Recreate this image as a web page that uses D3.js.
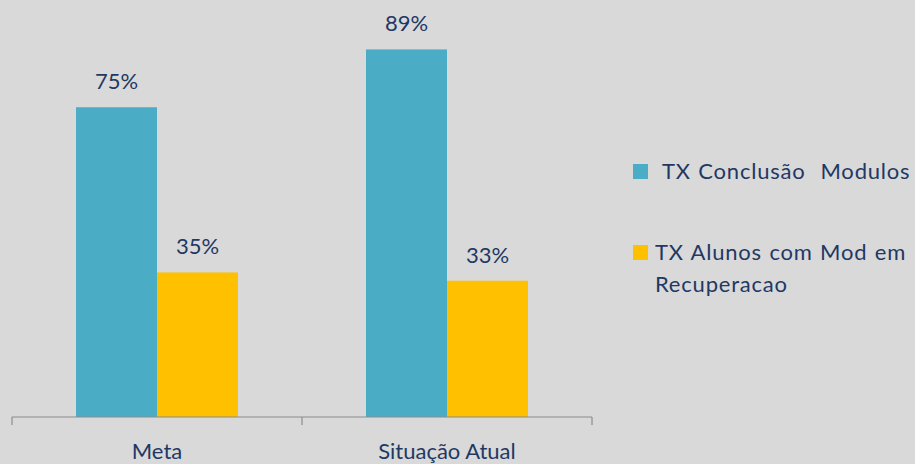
<!DOCTYPE html>
<html>
<head>
<meta charset="utf-8">
<script src="https://cdn.jsdelivr.net/npm/d3@7"></script>
<style>
  body { margin: 0; background: #d9d9d9; }
  svg { display: block; font-family: Lato, "Open Sans", sans-serif; }
  .lbl { fill: #1f3864; font-size: 22px; }
  .leg { fill: #1f3864; font-size: 22px; letter-spacing: 0.8px; word-spacing: 1px; }
</style>
</head>
<body>
<div id="chart"></div>
<script>
let categories = ["Meta", "Situação Atual"];
let series = ["TX Conclusão  Modulos", "TX Alunos com Mod em Recuperacao"];
let conclusao = [0.75, 0.89];
let recuperacao = [0.35, 0.33];
let colors = ["#4bacc6", "#ffc000"];

let width = 915, height = 464;

let svg = d3.select("#chart").append("svg")
    .attr("width", width)
    .attr("height", height);

svg.append("rect").attr("width", width).attr("height", height).attr("fill", "#d9d9d9");

let x0 = d3.scaleBand(categories, [12, 592]);
let x1 = d3.scaleBand(series, [64, x0.bandwidth() - 64]);
let y = d3.scaleLinear([0, 1], [417, 4]);

let rows = categories.map((c, i) => ({ cat: c, vals: [conclusao[i], recuperacao[i]] }));

let groups = svg.selectAll("g.cat")
    .data(rows)
    .enter()
    .append("g")
    .classed("cat", true)
    .attr("transform", (d) => "translate(" + x0(d.cat) + ",0)");

let bars = groups.selectAll("g.bar")
    .data((d) => d.vals.map((v, j) => ({ s: series[j], v: v, j: j })))
    .enter()
    .append("g")
    .classed("bar", true);

bars.append("rect")
    .attr("x", (d) => x1(d.s))
    .attr("y", (d) => y(d.v))
    .attr("width", x1.bandwidth())
    .attr("height", (d) => y(0) - y(d.v))
    .attr("fill", (d) => colors[d.j]);

bars.append("text")
    .classed("lbl", true)
    .attr("text-anchor", "middle")
    .attr("x", (d) => x1(d.s) + x1.bandwidth() / 2)
    .attr("y", (d) => y(d.v) - 18)
    .text((d) => Math.round(d.v * 100) + "%");

// axis
let axis = svg.append("g").attr("transform", "translate(0," + y(0) + ")");
axis.append("line")
    .attr("x1", x0.range()[0]).attr("x2", x0.range()[1])
    .attr("stroke", "#8c8c8c").attr("stroke-width", 1.2);
let ticks = categories.map((c) => x0(c)).concat([x0.range()[1]]);
axis.selectAll("line.tick")
    .data(ticks)
    .enter()
    .append("line")
    .classed("tick", true)
    .attr("x1", (d) => d).attr("x2", (d) => d)
    .attr("y1", 0).attr("y2", 8)
    .attr("stroke", "#8c8c8c").attr("stroke-width", 1.2);
axis.selectAll("text")
    .data(categories)
    .enter()
    .append("text")
    .classed("lbl", true)
    .attr("text-anchor", "middle")
    .attr("x", (d) => x0(d) + x0.bandwidth() / 2)
    .attr("y", 42)
    .text((d) => d);

// legend
let legend = svg.append("g");
let legY = [164, 245];
legend.selectAll("rect")
    .data(series)
    .enter()
    .append("rect")
    .attr("x", 633)
    .attr("y", (d, i) => legY[i])
    .attr("width", 15).attr("height", 15)
    .attr("fill", (d, i) => colors[i]);

legend.append("text").classed("leg", true)
    .attr("x", 662).attr("y", 179)
    .attr("xml:space", "preserve")
    .text(series[0]);

let t2 = legend.append("text").classed("leg", true).attr("x", 655).attr("y", 260);
t2.append("tspan").attr("x", 655).text("TX Alunos com Mod em");
t2.append("tspan").attr("x", 655).attr("dy", 32).text("Recuperacao");
</script>
</body>
</html>
